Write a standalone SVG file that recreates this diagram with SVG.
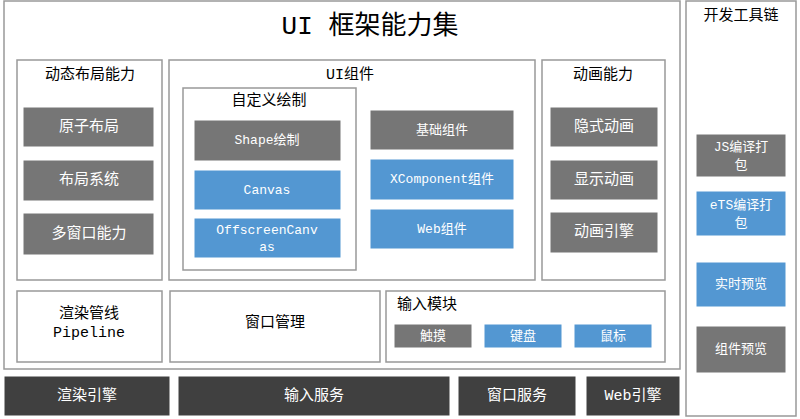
<svg xmlns="http://www.w3.org/2000/svg" width="800" height="419" viewBox="0 0 800 419">
<style>
.p{fill:#fff;stroke:#999;stroke-width:1.5}
.g{fill:#767676;stroke:#fff;stroke-width:1}
.b{fill:#5397d2;stroke:#fff;stroke-width:1}
.d{fill:#404040;stroke:#fff;stroke-width:1}
text{font-family:"Liberation Mono","Noto Sans CJK SC",monospace;text-anchor:middle;dominant-baseline:central}
.w{fill:#fff;font-size:15px}
.k{fill:#000;font-size:15px}
.s{font-size:13px}
</style>
<rect width="800" height="419" fill="#fff"/>
<g id="frame"><rect class="p" x="4" y="1" width="676" height="368"/><text class="k" x="370" y="27" style="font-size:26px">UI 框架能力集</text></g>
<g id="tools"><rect class="p" x="686" y="1" width="110" height="415"/><text class="k" x="741" y="16">开发工具链</text>
<g id="js"><rect class="g" x="696" y="134" width="90" height="43"/><text class="w s" x="741" y="147">JS编译打</text><text class="w s" x="741" y="165">包</text></g>
<g id="ets"><rect class="b" x="696" y="191" width="90" height="45"/><text class="w s" x="741" y="205">eTS编译打</text><text class="w s" x="741" y="223">包</text></g>
<g id="rt"><rect class="b" x="696" y="262" width="90" height="45"/><text class="w s" x="741" y="284">实时预览</text></g>
<g id="cp"><rect class="g" x="696" y="326" width="90" height="47"/><text class="w s" x="741" y="349">组件预览</text></g>
</g>
<g id="layout"><rect class="p" x="17" y="60" width="145" height="220"/><text class="k" x="90" y="75">动态布局能力</text>
<g id="n1"><rect class="g" x="23" y="107" width="131" height="40"/><text class="w" x="89" y="127">原子布局</text></g>
<g id="n2"><rect class="g" x="23" y="160" width="131" height="41"/><text class="w" x="89" y="180">布局系统</text></g>
<g id="n3"><rect class="g" x="23" y="213" width="131" height="42"/><text class="w" x="89" y="234">多窗口能力</text></g>
</g>
<g id="ui"><rect class="p" x="169" y="60" width="366" height="220"/><text class="k" x="350" y="75">UI组件</text>
<g id="custom"><rect class="p" x="183" y="88" width="173" height="182"/><text class="k" x="269" y="101">自定义绘制</text>
<g id="shape"><rect class="g" x="194" y="120" width="147" height="41"/><text class="w s" x="267" y="140">Shape绘制</text></g>
<g id="canvas"><rect class="b" x="194" y="170" width="147" height="40"/><text class="w s" x="267" y="190">Canvas</text></g>
<g id="off"><rect class="b" x="194" y="218" width="147" height="40"/><text class="w s" x="267" y="230">OffscreenCanv</text><text class="w s" x="267" y="247">as</text></g>
</g>
<g id="basic"><rect class="g" x="370" y="110" width="144" height="40"/><text class="w s" x="442" y="130">基础组件</text></g>
<g id="xc"><rect class="b" x="370" y="159" width="144" height="41"/><text class="w s" x="442" y="179">XComponent组件</text></g>
<g id="web"><rect class="b" x="370" y="209" width="144" height="40"/><text class="w s" x="442" y="229">Web组件</text></g>
</g>
<g id="anim"><rect class="p" x="542" y="60" width="123" height="220"/><text class="k" x="603" y="75">动画能力</text>
<g id="a1"><rect class="g" x="550" y="107" width="108" height="40"/><text class="w" x="604" y="127">隐式动画</text></g>
<g id="a2"><rect class="g" x="550" y="160" width="108" height="40"/><text class="w" x="604" y="180">显示动画</text></g>
<g id="a3"><rect class="g" x="550" y="212" width="108" height="41"/><text class="w" x="604" y="232">动画引擎</text></g>
</g>
<g id="pipe"><rect class="p" x="17" y="291" width="145" height="71"/><text class="k" x="89" y="314">渲染管线</text><text class="k" x="89" y="333">Pipeline</text></g>
<g id="win"><rect class="p" x="170" y="291" width="210" height="71"/><text class="k" x="275" y="323">窗口管理</text></g>
<g id="input"><rect class="p" x="386" y="291" width="279" height="71"/><text class="k" x="427" y="305">输入模块</text>
<g id="touch"><rect class="g" x="394" y="324" width="78" height="24"/><text class="w s" x="433" y="336">触摸</text></g>
<g id="kb"><rect class="b" x="484" y="324" width="78" height="24"/><text class="w s" x="523" y="336">键盘</text></g>
<g id="mouse"><rect class="b" x="574" y="324" width="78" height="24"/><text class="w s" x="613" y="336">鼠标</text></g>
</g>
<g id="b1"><rect class="d" x="4" y="376" width="166" height="40"/><text class="w" x="87" y="396">渲染引擎</text></g>
<g id="b2"><rect class="d" x="178" y="376" width="272" height="40"/><text class="w" x="314" y="396">输入服务</text></g>
<g id="b3"><rect class="d" x="458" y="376" width="118" height="40"/><text class="w" x="517" y="396">窗口服务</text></g>
<g id="b4"><rect class="d" x="586" y="376" width="94" height="40"/><text class="w" x="633" y="396">Web引擎</text></g>
<g id="connectors"/>
</svg>
